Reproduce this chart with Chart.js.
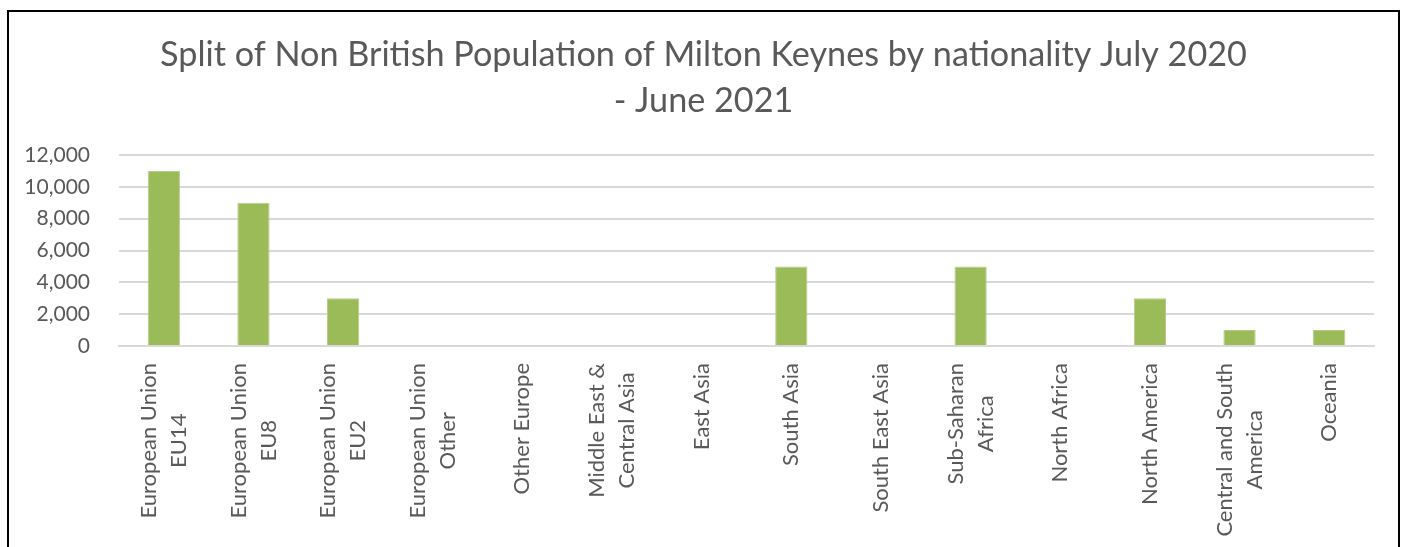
<!DOCTYPE html>
<html>
<head>
<meta charset="utf-8">
<script src="https://cdn.jsdelivr.net/npm/chart.js@4.4.1/dist/chart.umd.min.js"></script>
<style>
  html, body { margin: 0; padding: 0; background: #fff; overflow: hidden; }
  #frame {
    position: absolute; left: 7px; top: 10px; width: 1393px; height: 600px;
    border: 2px solid #000; box-sizing: border-box;
  }
  #wrap { position: absolute; left: 0; top: 0; width: 1407px; height: 547px; }
</style>
</head>
<body>
<div id="frame"></div>
<div id="wrap"><canvas id="chart"></canvas></div>
<script>
const categories = [
  ["European Union", "EU14"],
  ["European Union", "EU8"],
  ["European Union", "EU2"],
  ["European Union", "Other"],
  ["Other Europe"],
  ["Middle East &", "Central Asia"],
  ["East Asia"],
  ["South Asia"],
  ["South East Asia"],
  ["Sub-Saharan", "Africa"],
  ["North Africa"],
  ["North America"],
  ["Central and South", "America"],
  ["Oceania"]
];
const population = [11000, 9000, 3000, 0, 0, 0, 0, 5000, 0, 5000, 0, 3000, 1000, 1000];
const yTicks = [0, 2000, 4000, 6000, 8000, 10000, 12000];
const titleLines = [
  "Split of Non British Population of Milton Keynes by nationality July 2020",
  "- June 2021"
];

const textColor = "#595959";
const fontFamily = "Lato, 'Noto Sans', sans-serif";

// x labels: lines centred on each other, block hung from just under the axis
const categoryLabels = {
  id: "categoryLabels",
  afterDraw(chart) {
    const { ctx, scales } = chart;
    const x = scales.x;
    const top = x.top + 17;
    const lineH = 30;
    ctx.save();
    ctx.font = "22px " + fontFamily;
    ctx.fillStyle = textColor;
    ctx.textAlign = "center";
    ctx.textBaseline = "middle";
    categories.forEach((lines, i) => {
      const px = x.getPixelForTick(i);
      const w = Math.max(...lines.map((l) => ctx.measureText(l).width));
      lines.forEach((line, j) => {
        const lx = px + (j - (lines.length - 1) / 2) * lineH;
        ctx.save();
        ctx.translate(lx, top + w / 2);
        ctx.rotate(-Math.PI / 2);
        ctx.fillText(line, 0, 0);
        ctx.restore();
      });
    });
    ctx.restore();
  }
};

new Chart(document.getElementById("chart"), {
  type: "bar",
  data: {
    labels: categories,
    datasets: [
      {
        data: population,
        backgroundColor: "#9BBB59",
        borderColor: "#B5CC86",
        borderWidth: 1,
        categoryPercentage: 1,
        barPercentage: 0.36,
      },
    ],
  },
  options: {
    responsive: true,
    maintainAspectRatio: false,
    animation: false,
    layout: { padding: 0 },
    plugins: {
      legend: { display: false },
      tooltip: { enabled: false },
      title: {
        display: true,
        text: titleLines,
        color: textColor,
        font: { family: fontFamily, size: 34.2, weight: "normal", lineHeight: "46px" },
        padding: { top: 32, bottom: 31 },
      },
    },
    scales: {
      x: {
        grid: { display: false },
        border: { color: "#D9D9D9", width: 2 },
        ticks: { display: false },
        afterFit(scale) { scale.height = 547 - 346; },
      },
      y: {
        min: 0,
        max: 12000,
        afterBuildTicks(scale) { scale.ticks = yTicks.map((v) => ({ value: v })); },
        grid: { color: "#D9D9D9", lineWidth: 2, drawTicks: false },
        border: { display: false },
        ticks: {
          color: textColor,
          padding: 29,
          font: { family: fontFamily, size: 21 },
          callback: (v) => v.toLocaleString("en-GB"),
        },
        afterFit(scale) { scale.width = 119; },
      },
      // empty right-hand gutter so the title stays centred on the page
      gutter: {
        type: "linear",
        position: "right",
        grid: { display: false },
        border: { display: false },
        ticks: { display: false },
        afterFit(scale) { scale.width = 33; },
      },
    },
  },
  plugins: [categoryLabels],
});
</script>
</body>
</html>
